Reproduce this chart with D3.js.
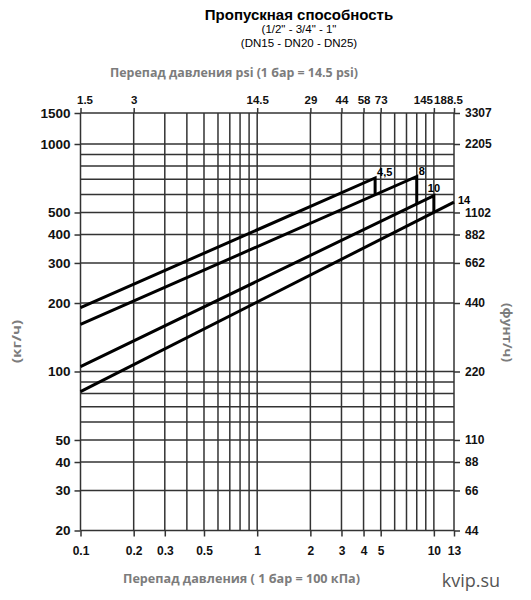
<!DOCTYPE html>
<html lang="ru">
<head>
<meta charset="UTF-8">
<title>Пропускная способность</title>
<style>
  body { margin: 0; background: #fff; }
  svg { display: block; }
  .num text { font-family: "Liberation Sans", Arial, sans-serif; font-weight: bold; fill: #111; }
  .gray { font-family: "Open Sans", sans-serif; font-weight: 700; fill: #7c7c7c; }
</style>
</head>
<body>
<div id="chart"></div>
<script src="https://cdn.jsdelivr.net/npm/d3@7/dist/d3.min.js"></script>
<script>
// pressure drop, bar (log axis) - grid lines and labels
var gridX = [0.1, 0.2, 0.3, 0.4, 0.5, 0.6, 0.7, 0.8, 0.9, 1, 2, 3, 4, 5, 6, 7, 8, 9, 10, 13];
var bottomTicks = [0.1, 0.2, 0.3, 0.5, 1, 2, 3, 4, 5, 10, 13];
var topTicks = [0.1, 0.2, 1, 2, 3, 4, 5, 10, 13];
var topLabels = ["1.5", "3", "14.5", "29", "44", "58", "73", "145", "188.5"];

// flow, kg/h (log axis)
var gridY = [20, 30, 40, 50, 60, 70, 80, 90, 100, 200, 300, 400, 500, 600, 700, 800, 900, 1000, 1500];
var leftTicks = [20, 30, 40, 50, 100, 200, 300, 400, 500, 1000, 1500];
var rightLabels = ["44", "66", "88", "110", "220", "440", "662", "882", "1102", "2205", "3307"];

// the four lines: flow at 0.1 bar, and where each one ends
var seriesNames = ["4,5", "8", "10", "14"];
var seriesStart = [191, 161, 105, 81.5];
var seriesEndX = [4.65, 8, 10, 13];
var seriesEndY = [709, 720, 593, 555];

var W = 531, H = 600;

var svg = d3.select("#chart").append("svg")
    .attr("width", W)
    .attr("height", H);

var x = d3.scaleLog()
    .domain([0.1, 13])
    .range([80.5, 454]);

// top row (1500) sits a bit lower than a pure log scale would put it
var y = d3.scaleLog()
    .domain([20, 1000, 1500])
    .range([530.5, 144, 113]);

// titles
svg.append("text")
    .attr("x", 299).attr("y", 19.5)
    .attr("text-anchor", "middle")
    .style("font-family", "Liberation Sans, Arial, sans-serif")
    .style("font-weight", "bold")
    .style("font-size", "15px")
    .text("Пропускная способность");
svg.append("text")
    .attr("x", 299).attr("y", 33)
    .attr("text-anchor", "middle")
    .style("font-family", "Liberation Sans, Arial, sans-serif")
    .style("font-size", "11.5px")
    .text("(1/2\" - 3/4\" - 1\"");
svg.append("text")
    .attr("x", 299).attr("y", 46.5)
    .attr("text-anchor", "middle")
    .style("font-family", "Liberation Sans, Arial, sans-serif")
    .style("font-size", "11.5px")
    .text("(DN15 - DN20 - DN25)");

svg.append("text")
    .attr("class", "gray")
    .attr("x", 110).attr("y", 77)
    .attr("textLength", 248)
    .attr("lengthAdjust", "spacingAndGlyphs")
    .style("font-size", "12.5px")
    .text("Перепад давления psi (1 бар = 14.5 psi)");

svg.append("text")
    .attr("class", "gray")
    .attr("x", 123).attr("y", 583)
    .attr("textLength", 237)
    .attr("lengthAdjust", "spacingAndGlyphs")
    .style("font-size", "12.5px")
    .text("Перепад давления ( 1 бар = 100 кПа)");

svg.append("text")
    .attr("class", "gray")
    .attr("transform", "translate(21,341.5) rotate(-90)")
    .attr("text-anchor", "middle")
    .attr("textLength", 43)
    .attr("lengthAdjust", "spacingAndGlyphs")
    .style("font-size", "12.5px")
    .text("(кг/ч)");

svg.append("text")
    .attr("class", "gray")
    .attr("transform", "translate(503,332.5) rotate(90)")
    .attr("text-anchor", "middle")
    .attr("textLength", 59)
    .attr("lengthAdjust", "spacingAndGlyphs")
    .style("font-size", "12.5px")
    .text("(фунт/ч)");

svg.append("text")
    .attr("x", 471).attr("y", 587)
    .attr("text-anchor", "middle")
    .style("font-family", "Open Sans, sans-serif")
    .style("font-size", "18px")
    .style("fill", "#555")
    .text("kvip.su");

// grid
var grid = svg.append("g")
    .attr("stroke", "#333")
    .attr("stroke-width", 1.5);

grid.selectAll(".vx")
    .data(gridX)
    .enter().append("line")
    .attr("x1", function (d) { return x(d); })
    .attr("x2", function (d) { return x(d); })
    .attr("y1", y(1500))
    .attr("y2", y(20));

grid.selectAll(".hy")
    .data(gridY)
    .enter().append("line")
    .attr("x1", x(0.1))
    .attr("x2", x(13))
    .attr("y1", function (d) { return y(d); })
    .attr("y2", function (d) { return y(d); });

// axes
function styleAxis(g, size) {
    g.select(".domain").remove();
    g.selectAll(".tick line").attr("stroke", "#333").attr("stroke-width", 1.5);
    g.selectAll(".tick text").style("font-size", size);
}

svg.append("g")
    .attr("class", "num")
    .attr("transform", "translate(" + x(0.1) + ",0)")
    .call(d3.axisLeft(y).tickValues(leftTicks).tickSize(6).tickPadding(4).tickFormat(d3.format("d")))
    .call(styleAxis, "13.5px");

svg.append("g")
    .attr("class", "num")
    .attr("transform", "translate(" + x(13) + ",0)")
    .call(d3.axisRight(y).tickValues(leftTicks).tickSize(6).tickPadding(5)
        .tickFormat(function (d, i) { return rightLabels[i]; }))
    .call(styleAxis, "12px");

svg.append("g")
    .attr("class", "num")
    .attr("transform", "translate(0," + y(20) + ")")
    .call(d3.axisBottom(x).tickValues(bottomTicks).tickSize(6).tickPadding(10)
        .tickFormat(function (d) { return String(d); }))
    .call(styleAxis, "12px");

var topShift = [4, 0, 0, 0, 0, 0, 0, -11, -6];
var topAxis = svg.append("g")
    .attr("class", "num")
    .attr("transform", "translate(0," + y(1500) + ")")
    .call(d3.axisTop(x).tickValues(topTicks).tickSize(5).tickPadding(4)
        .tickFormat(function (d, i) { return topLabels[i]; }))
    .call(styleAxis, "11.5px");
topAxis.selectAll(".tick text").attr("dx", function (d, i) { return topShift[i]; });

// flow value of series i at pressure p (straight line on log-log)
function flowAt(i, p) {
    var t = (Math.log(p) - Math.log(0.1)) / (Math.log(seriesEndX[i]) - Math.log(0.1));
    return Math.exp(Math.log(seriesStart[i]) + t * (Math.log(seriesEndY[i]) - Math.log(seriesStart[i])));
}

var line = d3.line()
    .x(function (d) { return x(d[0]); })
    .y(function (d) { return y(d[1]); });

var series = seriesNames.map(function (name, i) {
    var pts = [[0.1, seriesStart[i]], [seriesEndX[i], seriesEndY[i]]];
    // each line drops down to the next one at its end point
    if (i < seriesNames.length - 1) pts.push([seriesEndX[i], flowAt(i + 1, seriesEndX[i])]);
    return { name: name, pts: pts, end: pts[1] };
});

svg.selectAll(".curve")
    .data(series)
    .enter().append("path")
    .attr("class", "curve")
    .attr("fill", "none")
    .attr("stroke", "#000")
    .attr("stroke-width", 3)
    .attr("stroke-linejoin", "miter")
    .attr("d", function (d) { return line(d.pts); });

var labelNudge = [[2, -2], [2, -1], [-6, -4], [4, 2]];
svg.selectAll(".slabel")
    .data(series)
    .enter().append("text")
    .attr("class", "slabel")
    .attr("x", function (d, i) { return x(d.end[0]) + labelNudge[i][0]; })
    .attr("y", function (d, i) { return y(d.end[1]) + labelNudge[i][1]; })
    .style("font-family", "Liberation Sans, Arial, sans-serif")
    .style("font-weight", "bold")
    .style("font-size", "11px")
    .text(function (d) { return d.name; });
</script>
</body>
</html>
